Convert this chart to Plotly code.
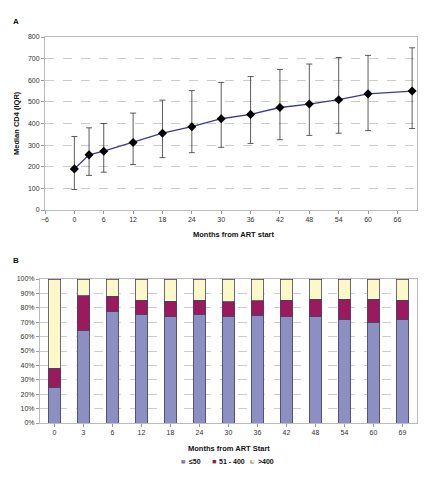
import plotly.graph_objects as go

# panel A: median CD4 with IQR
months = [0, 3, 6, 12, 18, 24, 30, 36, 42, 48, 54, 60, 69]
median_cd4 = [190, 255, 272, 312, 355, 385, 422, 442, 474, 490, 510, 537, 550]
q1 = [95, 160, 175, 210, 242, 265, 290, 308, 325, 345, 355, 367, 377]
q3 = [340, 380, 400, 448, 508, 552, 590, 617, 650, 675, 705, 715, 750]

# panel B: CD4 category share (%)
cats = ['0', '3', '6', '12', '18', '24', '30', '36', '42', '48', '54', '60', '69']
low = [25, 64.3, 77.2, 75.4, 73.8, 75.4, 74.3, 75, 73.8, 73.8, 71.7, 70.1, 71.7]
mid = [12.9, 24.1, 10.8, 10.0, 10.9, 10.0, 9.9, 9.9, 11.6, 12.3, 14.4, 15.8, 13.7]
high = [round(100 - a - b, 1) for a, b in zip(low, mid)]

series_names = ['≤50', '51 - 400', '>400']
series_colors = ['#8c8fc2', '#9b1a5e', '#fdf8c8']

# page body has an 8px margin, so the figure is a bit smaller than the window
OFF = 8
W, H = 435 - OFF, 480 - OFF
font = 'Liberation Sans, Arial, sans-serif'
tick_font = dict(family=font, size=7, color='#333333')
title_font = dict(family=font, size=7.5, color='#111111')


def px_x(x):
    return (x - OFF) / W


def px_y(y):
    return 1 - (y - OFF) / H


fig = go.Figure()

fig.add_trace(go.Scatter(
    x=months, y=median_cd4, mode='lines+markers',
    line=dict(color='#3a3a8c', width=1.3),
    marker=dict(symbol='diamond', size=7, color='black'),
    error_y=dict(type='data', symmetric=False,
                 array=[b - m for b, m in zip(q3, median_cd4)],
                 arrayminus=[m - a for a, m in zip(q1, median_cd4)],
                 color='#333333', thickness=0.8, width=3),
    showlegend=False, xaxis='x', yaxis='y'))

bar_line = dict(color='#444466', width=0.8)
for vals, name, col in zip([low, mid, high], series_names, series_colors):
    fig.add_trace(go.Bar(x=cats, y=vals, name=name, marker=dict(color=col, line=bar_line),
                         showlegend=False, xaxis='x2', yaxis='y2'))

axis_common = dict(showline=True, linecolor='#bbbbbb', linewidth=1, mirror=True,
                   ticks='outside', tickcolor='#999999', ticklen=3,
                   tickfont=tick_font, zeroline=False, automargin=False)


def ann(text, x, y, size=7.5, color='#111111', angle=0, xanchor='center'):
    return dict(text=text, x=px_x(x), y=px_y(y), xref='paper', yref='paper',
                showarrow=False, textangle=angle, xanchor=xanchor, yanchor='middle',
                font=dict(family=font, size=size, color=color))


annotations = [
    ann('<b>A</b>', 16, 21, size=8),
    ann('<b>B</b>', 16, 260, size=8),
    ann('<b>Median CD4 (IQR)</b>', 16, 123, angle=-90),
    ann('<b>Months from ART start</b>', 233, 235),
    ann('<b>Months from ART Start</b>', 229, 448),
]
# legend drawn as small squares + labels
legend_pos = [(183, 187), (214, 217), (252, 256)]
for (sx, tx), name, col in zip(legend_pos, series_names, series_colors):
    annotations.append(ann('■', sx, 461, size=7, color='#555555'))
    annotations.append(ann('■', sx, 461, size=5.5, color=col))
    annotations.append(ann('<b>%s</b>' % name, tx, 461, size=7, xanchor='left'))

fig.update_layout(
    width=W, height=H,
    margin=dict(l=0, r=0, t=0, b=0),
    paper_bgcolor='white', plot_bgcolor='white',
    barmode='stack', bargap=0.57,
    xaxis=dict(domain=[px_x(45), px_x(417)], range=[-6, 70], tick0=-6, dtick=6,
               showgrid=False, anchor='y', **axis_common),
    yaxis=dict(domain=[px_y(210), px_y(37)], range=[0, 800], dtick=100,
               showgrid=True, gridcolor='#cccccc', griddash='dash', gridwidth=0.8,
               anchor='x', **axis_common),
    xaxis2=dict(domain=[px_x(40), px_x(417)], showgrid=False, anchor='y2', **axis_common),
    yaxis2=dict(domain=[px_y(423), px_y(279)], range=[0, 100], dtick=10,
                ticksuffix='%', showgrid=True, gridcolor='#cccccc', griddash='dash',
                gridwidth=0.8, anchor='x2', **axis_common),
    annotations=annotations,
)

fig.write_html('out.html')
